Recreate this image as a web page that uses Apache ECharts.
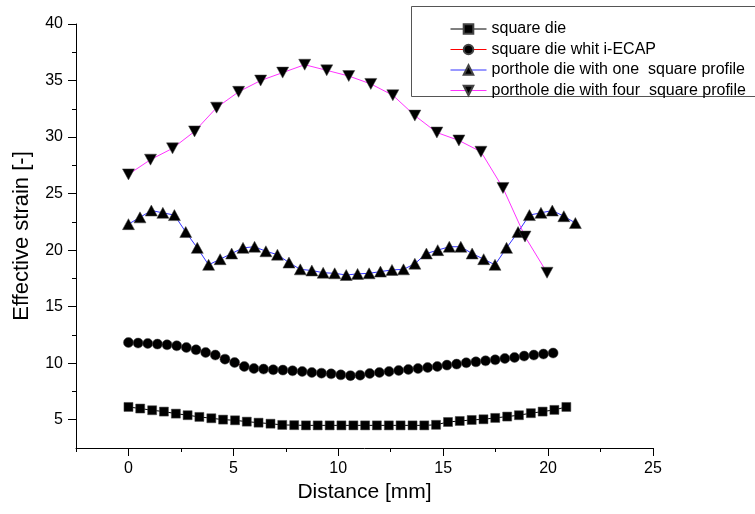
<!DOCTYPE html>
<html>
<head>
<meta charset="utf-8">
<script src="https://cdn.jsdelivr.net/npm/echarts@6/dist/echarts.min.js"></script>
<style>html,body{margin:0;padding:0;background:#fff;}#c{width:755px;height:514px;}</style>
</head>
<body>
<div id="c"></div>
<script>
// ---- data ----
var seriesNames = ['square die', 'square die whit i-ECAP', 'porthole die with one  square profile', 'porthole die with four  square profile'];

var xSquare = [0, 0.56, 1.13, 1.69, 2.26, 2.82, 3.38, 3.95, 4.51, 5.08, 5.64, 6.20, 6.77, 7.33, 7.90, 8.46, 9.02, 9.59, 10.15, 10.72, 11.28, 11.84, 12.41, 12.97, 13.54, 14.10, 14.66, 15.23, 15.79, 16.36, 16.92, 17.48, 18.05, 18.61, 19.18, 19.74, 20.30, 20.87];
var ySquare = [6.13, 5.99, 5.84, 5.72, 5.54, 5.40, 5.25, 5.13, 5.01, 4.95, 4.83, 4.74, 4.65, 4.54, 4.52, 4.5, 4.5, 4.5, 4.5, 4.5, 4.5, 4.5, 4.5, 4.5, 4.5, 4.5, 4.55, 4.8, 4.89, 4.98, 5.04, 5.16, 5.28, 5.40, 5.58, 5.72, 5.87, 6.13];

var xEcap = [0, 0.46, 0.92, 1.38, 1.84, 2.30, 2.76, 3.22, 3.68, 4.14, 4.60, 5.06, 5.52, 5.98, 6.44, 6.90, 7.36, 7.82, 8.28, 8.74, 9.20, 9.66, 10.12, 10.58, 11.04, 11.50, 11.96, 12.42, 12.88, 13.34, 13.80, 14.26, 14.72, 15.18, 15.64, 16.10, 16.56, 17.02, 17.48, 17.94, 18.40, 18.86, 19.32, 19.78, 20.24];
var yEcap = [11.83, 11.78, 11.75, 11.69, 11.63, 11.54, 11.39, 11.19, 10.95, 10.72, 10.36, 10.06, 9.71, 9.53, 9.48, 9.42, 9.39, 9.33, 9.27, 9.18, 9.12, 9.06, 8.97, 8.9, 8.94, 9.09, 9.18, 9.27, 9.36, 9.45, 9.53, 9.62, 9.71, 9.83, 9.92, 10.04, 10.12, 10.21, 10.30, 10.42, 10.51, 10.63, 10.72, 10.81, 10.90];

var xOne = [0, 0.55, 1.09, 1.64, 2.19, 2.73, 3.28, 3.82, 4.37, 4.92, 5.46, 6.01, 6.55, 7.10, 7.65, 8.19, 8.74, 9.28, 9.83, 10.38, 10.92, 11.47, 12.01, 12.56, 13.11, 13.65, 14.20, 14.74, 15.29, 15.84, 16.38, 16.93, 17.47, 18.02, 18.57, 19.11, 19.66, 20.20, 20.75, 21.30];
var yOne = [22.3, 22.9, 23.5, 23.3, 23.1, 21.6, 20.2, 18.7, 19.2, 19.7, 20.2, 20.3, 19.9, 19.6, 18.9, 18.3, 18.2, 18.0, 17.95, 17.8, 17.9, 17.95, 18.1, 18.25, 18.3, 18.8, 19.7, 20.0, 20.3, 20.3, 19.7, 19.2, 18.7, 20.2, 21.6, 23.1, 23.3, 23.5, 23.0, 22.4];

var xFour = [0, 1.05, 2.1, 3.15, 4.2, 5.25, 6.3, 7.35, 8.4, 9.45, 10.5, 11.55, 12.6, 13.65, 14.7, 15.75, 16.8, 17.85, 18.9, 19.95];
var yFour = [26.7, 28.0, 29.0, 30.5, 32.6, 34.0, 35.0, 35.7, 36.4, 35.9, 35.4, 34.7, 33.7, 31.9, 30.4, 29.7, 28.7, 25.5, 21.2, 18.0];

var xMajorTicks = [0, 5, 10, 15, 20, 25];
var xMinorTicks = [-2.5, 2.5, 7.5, 12.5, 17.5, 22.5];
var yMajorTicks = [5, 10, 15, 20, 25, 30, 35, 40];
var yMinorTicks = [7.5, 12.5, 17.5, 22.5, 27.5, 32.5, 37.5];

function pairs(xs, ys) { return xs.map(function (x, i) { return [x, ys[i]]; }); }

var FONT = '"Liberation Sans", Arial, sans-serif';
var chart = echarts.init(document.getElementById('c'), null, {renderer: 'canvas'});

var xBase = {type: 'value', min: -2.5, max: 25, gridIndex: 0, splitLine: {show: false}, position: 'bottom'};
var yBase = {type: 'value', min: 2.5, max: 40, gridIndex: 0, splitLine: {show: false}, position: 'left'};

function mkSeries(i, xs, ys, symbol, size, color, rot) {
  return {
    name: seriesNames[i], type: 'line', xAxisIndex: 0, yAxisIndex: 0,
    data: pairs(xs, ys), symbol: symbol, symbolSize: size, symbolRotate: rot || 0,
    showSymbol: true, showAllSymbol: true,
    lineStyle: {color: color, width: 1},
    itemStyle: {color: '#000', borderColor: '#444', borderWidth: 0.5},
    emphasis: {disabled: true}, z: 2 + i
  };
}

chart.setOption({
  animation: false,
  backgroundColor: '#fff',
  grid: {left: 76, right: 102, top: 24, bottom: 66, containLabel: false},
  graphic: [{
    type: 'rect', z: 1, silent: true,
    shape: {x: 411.5, y: 6.5, width: 400, height: 90},
    style: {fill: '#fff', stroke: '#555', lineWidth: 1}
  }],
  legend: {
    orient: 'vertical', left: 412, top: 8,
    padding: [13, 2, 0, 38],
    itemGap: 4.5, itemWidth: 36, itemHeight: 12,
    borderWidth: 0, backgroundColor: 'transparent', z: 10,
    lineStyle: {width: 1},
    textStyle: {fontFamily: FONT, fontSize: 16, color: '#000', lineHeight: 16},
    data: seriesNames
  },
  xAxis: [
    Object.assign({}, xBase, {
      name: 'Distance [mm]', nameLocation: 'middle', nameGap: 34,
      nameTextStyle: {fontFamily: FONT, fontSize: 21, color: '#000'},
      axisLine: {show: true, onZero: false, lineStyle: {color: '#000', width: 1}},
      axisTick: {show: true, inside: false, length: 8, customValues: xMajorTicks, lineStyle: {color: '#000', width: 1}},
      axisLabel: {show: true, margin: 13, customValues: xMajorTicks, fontFamily: FONT, fontSize: 16, color: '#000'}
    }),
    Object.assign({}, xBase, {
      axisLine: {show: false, onZero: false},
      axisTick: {show: true, inside: false, length: 4, customValues: xMinorTicks, lineStyle: {color: '#000', width: 1}},
      axisLabel: {show: false}
    })
  ],
  yAxis: [
    Object.assign({}, yBase, {
      name: 'Effective strain [-]', nameLocation: 'middle', nameGap: 43,
      nameTextStyle: {fontFamily: FONT, fontSize: 22, color: '#000'},
      axisLine: {show: true, onZero: false, lineStyle: {color: '#000', width: 1}},
      axisTick: {show: true, inside: false, length: 8, customValues: yMajorTicks, lineStyle: {color: '#000', width: 1}},
      axisLabel: {show: true, margin: 13, customValues: yMajorTicks, fontFamily: FONT, fontSize: 16, color: '#000'}
    }),
    Object.assign({}, yBase, {
      axisLine: {show: false, onZero: false},
      axisTick: {show: true, inside: false, length: 4, customValues: yMinorTicks, lineStyle: {color: '#000', width: 1}},
      axisLabel: {show: false}
    })
  ],
  series: [
    mkSeries(0, xSquare, ySquare, 'rect', 9, '#000000'),
    mkSeries(1, xEcap, yEcap, 'circle', 10, '#ff0000'),
    mkSeries(2, xOne, yOne, 'triangle', [12, 11], '#3333ff'),
    mkSeries(3, xFour, yFour, 'triangle', [12, 11], '#ff33ff', 180)
  ]
});
</script>
</body>
</html>
